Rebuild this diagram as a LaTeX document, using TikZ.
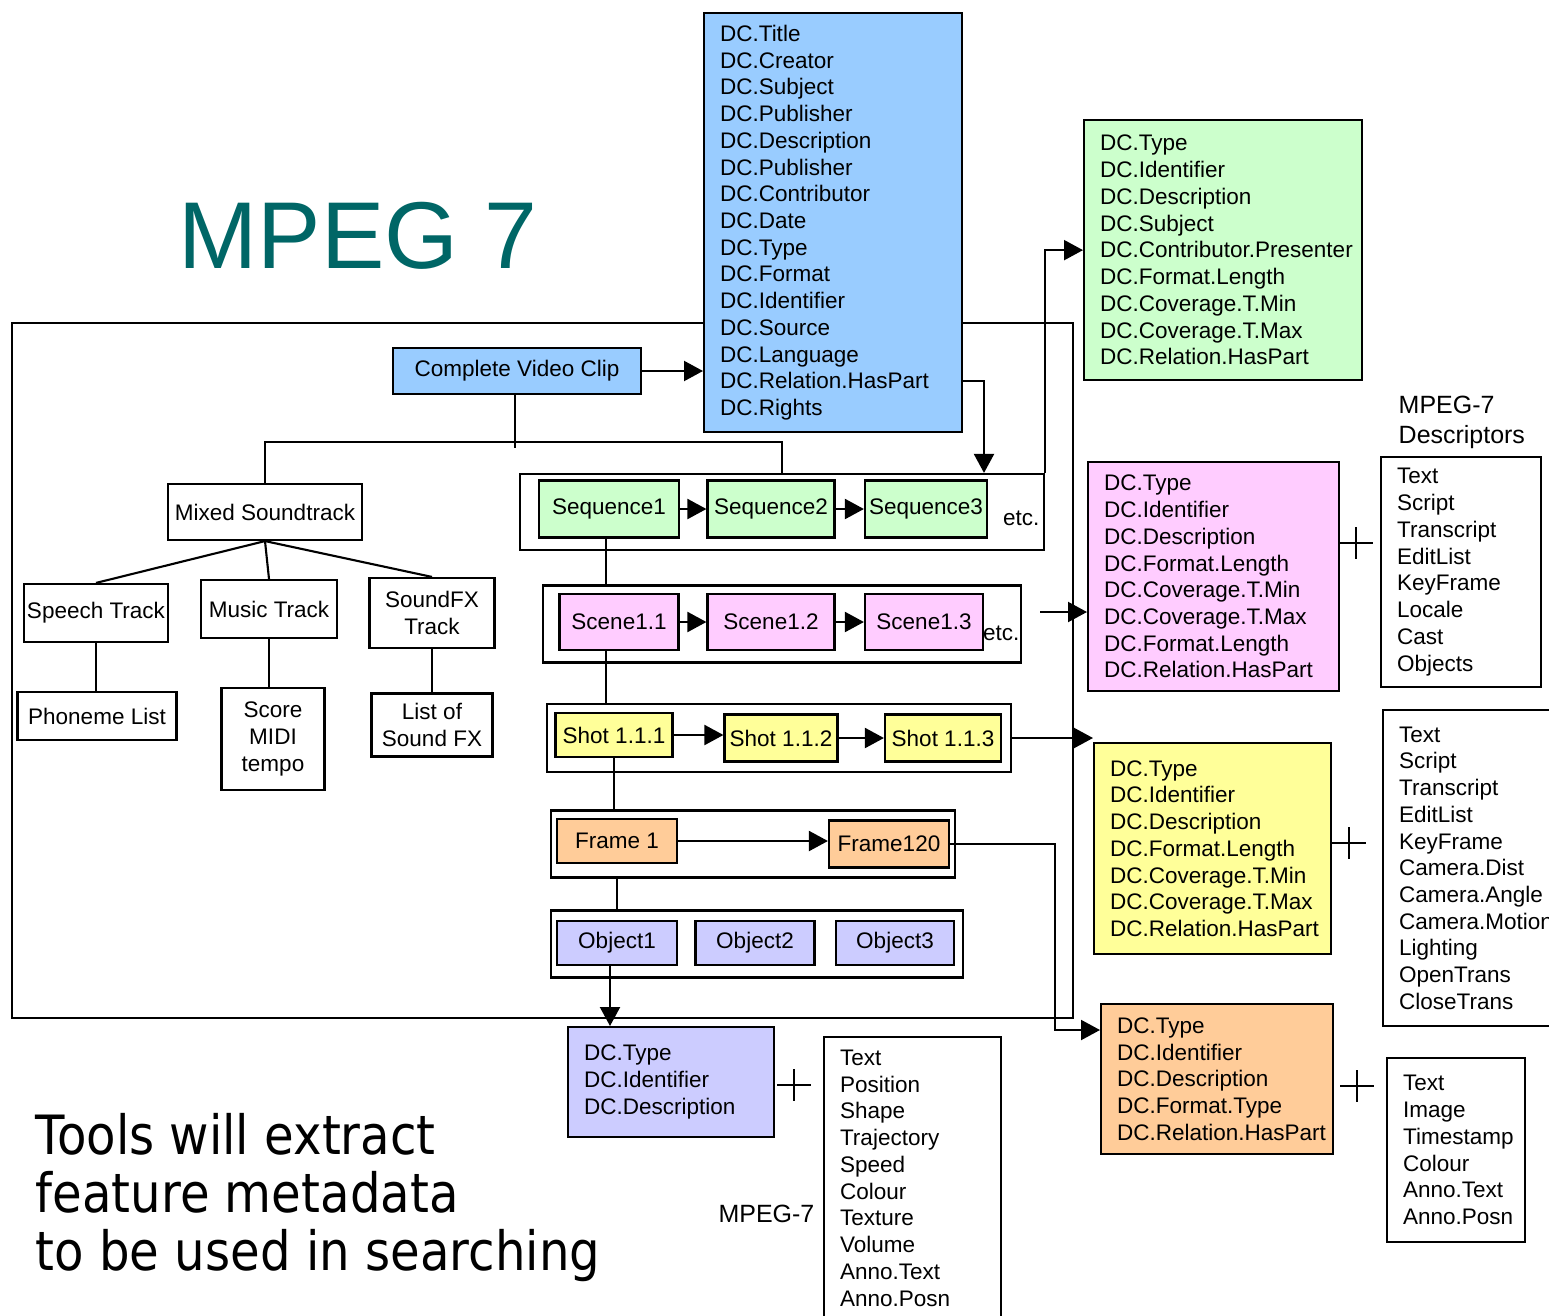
\documentclass[tikz,border=0pt]{standalone}
\usepackage{fontspec}
\setmainfont{Liberation Sans}
\newfontfamily\toolsfont[FakeStretch=0.89]{DejaVu Sans}
\usetikzlibrary{arrows.meta}

\definecolor{clipblue}{HTML}{99CCFF}
\definecolor{seqgreen}{HTML}{CCFFCC}
\definecolor{scenepink}{HTML}{FFCCFF}
\definecolor{shotyellow}{HTML}{FFFF99}
\definecolor{frameorange}{HTML}{FFCC99}
\definecolor{objlilac}{HTML}{CCCCFF}
\definecolor{titleteal}{HTML}{006666}

\newcommand\dcfont{\fontsize{6.4}{7.6}\selectfont}
\newcommand\mpegfont{\fontsize{7.1}{8.5}\selectfont}

\tikzset{
  item/.style={draw, line width=0.6pt, inner sep=0pt, align=center, font=\dcfont},
  rowbox/.style={draw, line width=0.6pt, inner sep=0pt},
  dclist/.style={draw, line width=0.6pt, anchor=north west, align=left,
    inner xsep=0.16cm, inner ysep=0pt, font=\dcfont},
  link/.style={line width=0.6pt},
  flow/.style={line width=0.6pt, -{Triangle[length=0.19cm,width=0.2cm]}},
}

\begin{document}
\begin{tikzpicture}[x=0.01cm,y=-0.01cm]
    \useasboundingbox (0,0) rectangle (1549,1315);

    % title and note
    \node[anchor=base west, inner sep=0pt, text=titleteal,
      font=\fontsize{27}{33}\selectfont] (title) at (178,268) {MPEG 7};
    \node[anchor=north west, align=left, inner sep=0pt,
      font=\toolsfont\fontsize{15.4}{16.5}\selectfont] (note) at (35,1113)
      {Tools will extract\\feature metadata\\to be used in searching};

    % the frame round the clip
    \draw[link] (703,323) -| (12,1018) -| (1073,323) -- (961,323);

    % Dublin Core records
    \node[dclist, fill=clipblue, text width=2.26cm, minimum height=4.19cm] (dcclip) at (703,12)
      {DC.Title\\DC.Creator\\DC.Subject\\DC.Publisher\\DC.Description\\DC.Publisher\\
       DC.Contributor\\DC.Date\\DC.Type\\DC.Format\\DC.Identifier\\DC.Source\\
       DC.Language\\DC.Relation.HasPart\\DC.Rights};
    \node[dclist, fill=seqgreen, text width=2.46cm, minimum height=2.60cm] (dcseq) at (1083,119)
      {DC.Type\\DC.Identifier\\DC.Description\\DC.Subject\\DC.Contributor.Presenter\\
       DC.Format.Length\\DC.Coverage.T.Min\\DC.Coverage.T.Max\\DC.Relation.HasPart};
    \node[dclist, fill=scenepink, text width=2.19cm, minimum height=2.29cm] (dcscene) at (1087,461)
      {DC.Type\\DC.Identifier\\DC.Description\\DC.Format.Length\\DC.Coverage.T.Min\\
       DC.Coverage.T.Max\\DC.Format.Length\\DC.Relation.HasPart};
    \node[dclist, fill=shotyellow, text width=2.05cm, minimum height=2.11cm] (dcshot) at (1093,742)
      {DC.Type\\DC.Identifier\\DC.Description\\DC.Format.Length\\DC.Coverage.T.Min\\
       DC.Coverage.T.Max\\DC.Relation.HasPart};
    \node[dclist, fill=frameorange, text width=2.00cm, minimum height=1.50cm] (dcframe) at (1100,1003)
      {DC.Type\\DC.Identifier\\DC.Description\\DC.Format.Type\\DC.Relation.HasPart};
    \node[dclist, fill=objlilac, text width=1.74cm, minimum height=1.10cm] (dcobj) at (567,1026)
      {DC.Type\\DC.Identifier\\DC.Description};

    % MPEG-7 descriptors
    \node[anchor=west, align=left, inner sep=0pt, font=\mpegfont] (desclabel) at (1398,422)
      {MPEG-7\\Descriptors};
    \node[dclist, fill=white, text width=1.28cm, minimum height=2.30cm] (descscene) at (1380,456)
      {Text\\Script\\Transcript\\EditList\\KeyFrame\\Locale\\Cast\\Objects};
    \node[dclist, fill=white, text width=1.50cm, minimum height=3.16cm] (descshot) at (1382,709)
      {Text\\Script\\Transcript\\EditList\\KeyFrame\\Camera.Dist\\Camera.Angle\\
       Camera.Motion\\Lighting\\OpenTrans\\CloseTrans};
    \node[dclist, fill=white, text width=1.06cm, minimum height=1.84cm] (descframe) at (1386,1057)
      {Text\\Image\\Timestamp\\Colour\\Anno.Text\\Anno.Posn};
    \node[dclist, fill=white, text width=1.45cm, minimum height=2.82cm] (descobj) at (823,1036)
      {Text\\Position\\Shape\\Trajectory\\Speed\\Colour\\Texture\\Volume\\Anno.Text\\Anno.Posn};
    \node[anchor=east, inner sep=0pt, font=\mpegfont] (objlabel) at (815,1214) {MPEG-7};

    % plus signs
    \foreach \px/\py in {1356/543, 1349/843, 1357/1086, 794/1085}
      \draw[link] (\px-17,\py) -- (\px+17,\py) (\px,\py-16) -- (\px,\py+16);

    % clip and soundtrack tree
    \node[item, fill=clipblue, minimum width=2.48cm, minimum height=0.46cm] (clip) at (517,371) {Complete Video Clip};
    \node[item, minimum width=1.94cm, minimum height=0.56cm] (mixed) at (265,512) {Mixed Soundtrack};
    \node[item, minimum width=1.44cm, minimum height=0.58cm] (speech) at (96,613) {Speech Track};
    \node[item, minimum width=1.36cm, minimum height=0.58cm] (music) at (269,609) {Music Track};
    \node[item, minimum width=1.25cm, minimum height=0.70cm] (sfx) at (432,613) {SoundFX\\Track};
    \node[item, minimum width=1.59cm, minimum height=0.48cm] (phoneme) at (97,716) {Phoneme List};
    \node[item, minimum width=1.03cm, minimum height=1.02cm] (score) at (273,739) {Score\\MIDI\\tempo};
    \node[item, minimum width=1.21cm, minimum height=0.63cm] (fxlist) at (432,725) {List of\\Sound FX};

    % sequences
    \node[rowbox, minimum width=5.23cm, minimum height=0.76cm] (seqrow) at (782,512) {};
    \node[item, fill=seqgreen, minimum width=1.40cm, minimum height=0.57cm] (seq1) at (609,509) {Sequence1};
    \node[item, fill=seqgreen, minimum width=1.27cm, minimum height=0.57cm] (seq2) at (771,509) {Sequence2};
    \node[item, fill=seqgreen, minimum width=1.22cm, minimum height=0.57cm] (seq3) at (926,509) {Sequence3};
    \node[anchor=east, inner sep=0pt, font=\dcfont] (seqetc) at (1040,518) {etc.};

    % scenes
    \node[rowbox, minimum width=4.78cm, minimum height=0.77cm] (scenerow) at (782,624) {};
    \node[item, fill=scenepink, minimum width=1.19cm, minimum height=0.56cm] (scene1) at (619,622) {Scene1.1};
    \node[item, fill=scenepink, minimum width=1.27cm, minimum height=0.56cm] (scene2) at (771,622) {Scene1.2};
    \node[item, fill=scenepink, minimum width=1.18cm, minimum height=0.56cm] (scene3) at (924,622) {Scene1.3};
    \node[anchor=east, inner sep=0pt, font=\dcfont] (sceneetc) at (1020,633) {etc.};

    % shots
    \node[rowbox, minimum width=4.64cm, minimum height=0.68cm] (shotrow) at (779,738) {};
    \node[item, fill=shotyellow, minimum width=1.17cm, minimum height=0.44cm] (shot1) at (614,735) {Shot 1.1.1};
    \node[item, fill=shotyellow, minimum width=1.13cm, minimum height=0.47cm] (shot2) at (781,738) {Shot 1.1.2};
    \node[item, fill=shotyellow, minimum width=1.16cm, minimum height=0.47cm] (shot3) at (943,738) {Shot 1.1.3};

    % frames
    \node[rowbox, minimum width=4.04cm, minimum height=0.67cm] (framerow) at (753,844) {};
    \node[item, fill=frameorange, minimum width=1.20cm, minimum height=0.44cm] (frame1) at (617,841) {Frame 1};
    \node[item, fill=frameorange, minimum width=1.20cm, minimum height=0.47cm] (frame120) at (889,844) {Frame120};

    % objects
    \node[rowbox, minimum width=4.12cm, minimum height=0.67cm] (objrow) at (757,944) {};
    \node[item, fill=objlilac, minimum width=1.20cm, minimum height=0.44cm] (obj1) at (617,943) {Object1};
    \node[item, fill=objlilac, minimum width=1.19cm, minimum height=0.44cm] (obj2) at (755,943) {Object2};
    \node[item, fill=objlilac, minimum width=1.18cm, minimum height=0.44cm] (obj3) at (895,943) {Object3};

    % tree links
    \coordinate (split) at (515,442);
    \coordinate (spine) at (606,0);
    \draw[link] (clip.south -| split) -- ++(0,53);
    \draw[link] (mixed.north) |- (split) -| (seqrow.north);
    \draw[link] (mixed.south) -- (speech.north);
    \draw[link] (mixed.south) -- (music.north);
    \draw[link] (mixed.south) -- (sfx.north);
    \draw[link] (speech.south) -- (speech.south |- phoneme.north);
    \draw[link] (music.south) -- (music.south |- score.north);
    \draw[link] (sfx.south) -- (sfx.south |- fxlist.north);
    \draw[link] (seq1.south -| spine) -- (scenerow.north -| spine);
    \draw[link] (scene1.south -| spine) -- (shotrow.north -| spine);
    \draw[link] (shot1.south) -- (shot1.south |- framerow.north);
    \draw[link] (frame1.south |- framerow.south) -- (frame1.south |- objrow.north);

    % order within rows
    \draw[flow] (seq1) -- (seq2);
    \draw[flow] (seq2) -- (seq3);
    \draw[flow] (scene1) -- (scene2);
    \draw[flow] (scene2) -- (scene3);
    \draw[flow] (shot1.east) -- (shot1.east -| shot2.west);
    \draw[flow] (shot2) -- (shot3);
    \draw[flow] (frame1.east) -- (frame1.east -| frame120.west);

    % links to the records
    \coordinate (haspart) at (984,381);
    \coordinate (scenetap) at (1040,612);
    \coordinate (framedrop) at (1055,1030);
    \coordinate (objdrop) at (610,0);
    \draw[flow] (clip) -- (clip -| dcclip.west);
    \draw[flow] (dcclip.east |- haspart) -- (haspart) -- (haspart |- seqrow.north);
    \draw[flow] (seqrow.north east) |- (dcseq.west);
    \draw[flow] (scenetap) -- (scenetap -| dcscene.west);
    \draw[flow] (shotrow.east) -- (shotrow.east -| dcshot.west);
    \draw[flow] (frame120.east) -| (framedrop) -- (framedrop -| dcframe.west);
    \draw[flow] (obj1.south -| objdrop) -- (dcobj.north -| objdrop);
\end{tikzpicture}
\end{document}
